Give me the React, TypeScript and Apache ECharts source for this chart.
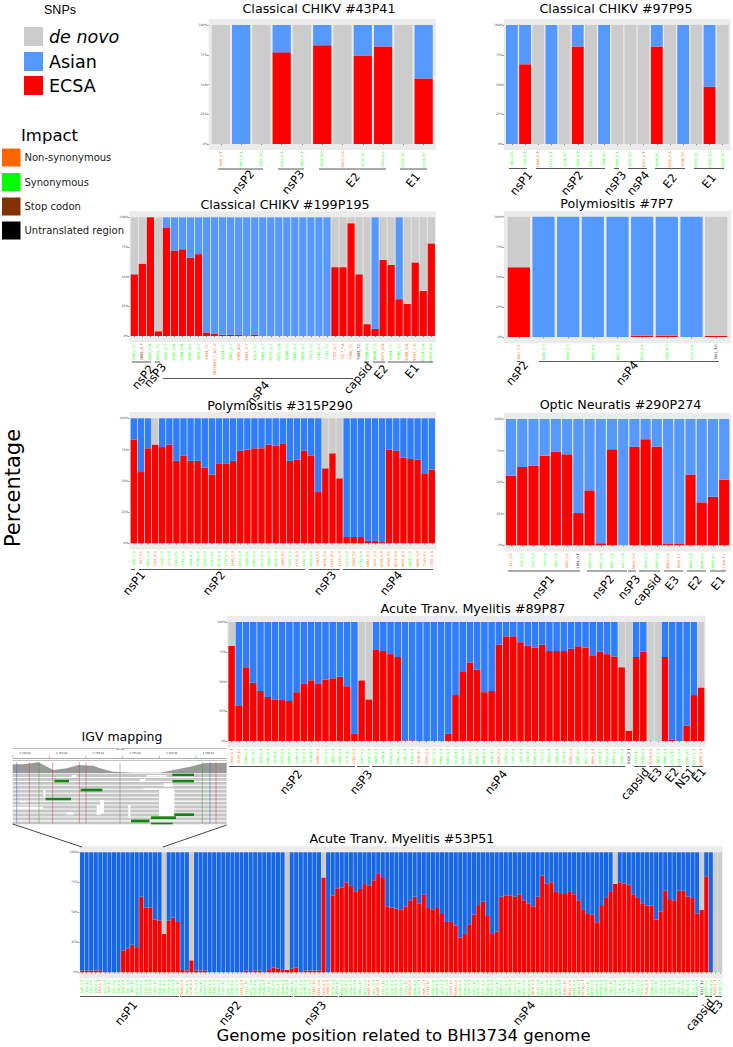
import React, { useEffect, useRef } from "react";
import * as echarts from "echarts";

// marks a few bars (1-based) on a run of n bars
const marks = (n: number, base: string, groups: Record<string, number[]>) => {
  const a = Array(n).fill(base);
  Object.entries(groups).forEach(([k, list]) => list.forEach((b) => (a[b - 1] = k)));
  return a.join("");
};

// ---------- data ----------
const red43 = [0, 0, 0, 77, 0, 83, 0, 74, 82, 0, 55];
const rest43 = "GBGBGBGBBGB";
const impact43 = "NSSSSSNSSSS";
const labels43 = ["3408_G:T", "3651_G:T", "3857_T:C", "4231_G:T", "4852_G:T", "8635_T:C", "8874_G:A", "9132_T:C", "9404_A:G", "10223_T:C", "10736_T:C"];
const genes43 = ["nsP2", "nsP3", "E2", "E1"];

const red97 = [0, 67, 0, 0, 0, 82, 0, 0, 0, 0, 0, 82, 0, 0, 0, 48, 0];
const rest97 = "BBGBGBGBGGGBGBGBG";
const impact97 = "SSNSSSSSSSNSNNSSS";
const labels97 = ["681_A:G", "1176_G:T", "1688_G:T", "2037_G:T", "2538_T:C", "3028_G:T", "3361_A:G", "3688_T:C", "5098_G:T", "6007_T:C", "6327_G:T", "8846_T:C", "9028_G:A", "9268_T:C", "10052_T:C", "10263_T:C", "10920_T:C"];
const genes97 = ["nsP1", "nsP2", "nsP3", "nsP4", "E2", "E1"];

const red199 = [52, 61, 100, 4, 91, 72, 73, 66, 69, 3, 2, 1, 1, 1, 0, 1, 0, 0, 0, 0, 0, 0, 0, 0, 0, 58, 58, 95, 52, 10, 6, 64, 60, 31, 27, 62, 38, 78];
const rest199 = marks(38, "B", { G: [1, 2, 3, 4, 26, 27, 28, 29, 30, 32, 33, 35, 36, 37, 38] });
const impact199 = marks(38, "S", { X: [2], N: [10, 11, 14, 15, 26, 27, 28, 32, 35, 36], U: [29] });
const labels199 = ["2491_T:C", "3869_G:T", "3997_G:A", "4471_T:C", "5083_G:T", "5392_G:A", "5584_G:A", "5687_A:G", "5876_G:T", "5894_T:C", "5855843_T_A:C:G", "5934_T:C", "5961_G:T", "5983_A:G", "6063_G:T", "6213_T:C", "6408_G:T", "6573_G:T", "6651_G:A", "6686_T:C", "6843_G:T", "6876_G:T", "7113_T:C", "7242_G:T", "7341_T:C", "7702_G:T", "7917_T:A", "7986_T:C", "7993_T:C", "7998_A:G", "8688_T:G", "8971_G:A", "9064_T:C", "9080_T:C", "9088_G:A", "9097_C:G", "10074_G:A", "10972_A:G"];
const genes199 = ["nsP2", "nsP3", "nsP4", "capsid", "E2", "E1"];

const red7 = [58, 0, 0, 0, 0, 1, 1, 0, 1];
const rest7 = "GBBBBBBBG";
const impact7 = "NSSSSSSSU";
const labels7 = ["3881_C:T", "6490_G:T", "6560_G:T", "6692_G:T", "6821_G:T", "6973_G:A", "7082_G:T", "7213_G:A", "7561_T:G"];
const genes7 = ["nsP2", "nsP4"];

const red315 = [83, 57, 76, 79, 77, 79, 66, 70, 66, 66, 60.5, 55, 63.5, 63.5, 66, 74, 75, 76, 76, 79, 78, 79.5, 66, 67, 74, 70, 41, 60, 72, 52, 5, 5, 5, 2, 2, 1, 75, 74, 68.5, 67.5, 67, 56, 59];
const rest315 = marks(43, "B", { G: [4, 28, 29, 30] });
const impact315 = marks(43, "S", { N: [2, 4, 15, 22, 24, 27, 28, 29, 30, 32, 34, 35, 36, 37, 38, 39, 41, 42, 43] });
const genes315 = ["nsP1", "nsP2", "nsP3", "nsP4"];

const red290 = [55, 62, 63, 71, 74, 72, 25.5, 43.5, 1.6, 76, 0, 78, 84, 78, 1, 1, 56, 34, 38.5, 52];
const rest290 = marks(20, "B", {});
const impact290 = marks(20, "S", { N: [1, 6, 12, 15, 16, 20], U: [7] });
const labels290 = ["391_G:T", "479_G:T", "642_G:A", "748_G:T", "996_G:T", "1060_G:T", "1364_G:T", "1695_G:T", "2691_G:A", "3695_G:T", "4617_C:T", "5804_G:A", "7644_A:G", "7894_G:A", "8686_C:A", "8924_T:C", "9098_G:T", "9668_A:G", "10002_T:C", "11346_T:C"];
const genes290 = ["nsP1", "nsP2", "nsP3", "capsid", "E3", "E2", "E1"];

const red89 = [80, 30, 62, 49, 42, 37, 35, 34.5, 33.6, 41, 48, 51, 48, 51.5, 52.7, 54, 46, 6, 51, 35, 76.5, 75.6, 73, 70.6, 0.5, 0.5, 0, 0, 0, 0, 6, 38.6, 58, 66, 60, 41, 42, 81, 88, 88, 83, 80, 78.5, 81, 75.6, 75.6, 75.6, 77.6, 79.6, 78.5, 72, 75, 73, 71, 62, 8.7, 70.6, 75, 0, 0, 70.6, 1, 0, 13, 38.6, 45];
const rest89 = marks(66, "B", { G: [1, 19, 20, 55, 56, 59, 60, 66] });
const impact89 = marks(66, "S", { N: [1, 2, 13, 18, 27, 28, 38, 48, 51, 59, 66], U: [56] });
const genes89 = ["nsP2", "nsP3", "nsP4", "capsid", "E3", "E2", "NS1", "E1"];

const red53 = [
  1.5, 1.5, 1.5, 1.5, 1.5, 0, 0, 0, 0, 18, 20, 23, 21, 63, 54, 54, 44, 43, 32, 43,
  45.5, 42, 2, 1.5, 10, 1.5, 1.5, 1.5, 0, 0, 0, 0, 0, 0, 0, 0, 1.5, 0, 1.5, 1.5,
  0, 2, 4, 3, 2, 2, 3, 4, 0, 1.5, 1.5, 1.5, 1.5, 79, 0, 64, 70, 70.5, 75, 72,
  67.5, 69.5, 73.5, 72.5, 76.7, 82, 78.6, 55, 54, 53, 52.5, 55, 60, 63, 57.5, 65, 53.6, 52.5, 53.6, 48.6,
  42, 42, 39, 29, 32, 40, 48, 56, 59, 47, 32, 34, 63, 64, 64, 63, 65, 60, 57.5, 55,
  63, 80.5, 74, 75, 67, 66, 66, 67, 65, 60, 52, 48.6, 48, 41.7, 56, 62, 67, 73.6, 75, 74,
  73, 65, 62, 57, 55.6, 55.6, 44, 50.5, 68, 61, 60, 68, 68, 63, 62, 49, 52, 80, 1, 0, 0,
];
const rest53 = marks(141, "B", { G: [19, 25, 46, 54, 118, 137, 140, 141] });
const impact53 = marks(141, "S", { N: [5, 23, 25, 36, 52, 53, 54, 55, 64, 66, 73, 76, 77, 82, 83, 100, 107, 108, 111, 125, 140], U: [137] });
const genes53 = ["nsP1", "nsP2", "nsP3", "nsP4", "capsid", "E3"];

const yTicks = [0, 25, 50, 75, 100];
const snpLegend = ["de novo", "Asian", "ECSA"];
const impactLegend = ["Non-synonymous", "Synonymous", "Stop codon", "Untranslated region"];
const igvTicks = ["1,740 bp", "1,750 bp", "1,760 bp", "1,770 bp", "1,780 bp", "1,790 bp"];

// illegible site names of the dense panels: genome position and base change
const changes = ["G:T", "T:C", "G:A", "A:G", "C:T"];
const sites = (from: number, to: number, n: number) =>
  Array.from({ length: n }, (_, i) => `${Math.round(from + ((to - from) * i) / (n - 1))}_${changes[i % 5]}`);
const labels315 = sites(690, 7300, 43);
const labels89 = sites(2002, 10650, 66);
const labels53 = sites(320, 8460, 141);

// ---------- layout and styles ----------
const C = { red: "#ff0000", gray: "#cccccc", bl: "#5599ff", bl2: "#2e7eff", bl3: "#1566e8", bg: "#ebebeb" };
const impactColor: Record<string, string> = { N: "#ff6600", S: "#00ff00", X: "#803300", U: "#000000" };
const FONT = "'DejaVu Sans'";

type B = [number, number, number, number, number];
const panels = [
  { title: "Classical CHIKV #43P41", tx: 319, ty: 8, left: 210.7, top: 25, w: 223.1, h: 119, tick: 3.3, blue: C.bl, red: red43, rest: rest43, impact: impact43, labels: labels43, genes: genes43,
    br: [[218, 263, 169, 243, 182], [278, 304, 169, 293, 182], [319, 386, 169, 353, 180], [400, 427, 169, 413, 180]] as B[] },
  { title: "Classical CHIKV #97P95", tx: 616, ty: 8, left: 505.3, top: 25, w: 224, h: 119, tick: 3.3, blue: C.bl, red: red97, rest: rest97, impact: impact97, labels: labels97, genes: genes97,
    br: [[509, 527, 168.5, 521, 183], [536, 605, 168.5, 572, 183], [614, 619, 168.5, 615, 183], [628, 647, 168.5, 638, 183], [655, 685, 168.5, 670, 181], [694, 724, 168.5, 709, 181]] as B[] },
  { title: "Classical CHIKV #199P195", tx: 285, ty: 204, left: 130.3, top: 217.3, w: 305, h: 118.7, tick: 3.6, blue: C.bl, red: red199, rest: rest199, impact: impact199, labels: labels199, genes: genes199,
    br: [[131.7, 151, 362, 143, 377], [155, 160, 362, 155, 375], [163, 353, 378.5, 258, 393], [364, 369, 362, 358, 378], [373, 385, 362, 381, 372], [388, 433, 362, 412, 371]] as B[] },
  { title: "Polymiositis #7P7", tx: 617, ty: 203, left: 506.5, top: 216.7, w: 222, h: 120.3, tick: 3.3, blue: C.bl, red: red7, rest: rest7, impact: impact7, labels: labels7, genes: genes7,
    br: [[517, 520, 361.5, 517, 373], [539, 719, 361.5, 627, 373]] as B[] },
  { title: "Polymiositis #315P290", tx: 280, ty: 405, left: 130.3, top: 418.3, w: 305, h: 125, tick: 3.3, blue: C.bl2, red: red315, rest: rest315, impact: impact315, labels: labels315, genes: genes315,
    br: [[131, 135, 569.5, 134, 583], [139, 305, 569.5, 214, 583], [309, 340, 569.5, 325, 583], [343, 433, 569.5, 391, 583]] as B[] },
  { title: "Optic Neuratis #290P274", tx: 620.5, ty: 404, left: 505.4, top: 419, w: 224.4, h: 126.3, tick: 3.3, blue: C.bl, red: red290, rest: rest290, impact: impact290, labels: labels290, genes: genes290,
    br: [[508, 580, 571, 543, 587], [587, 627, 571, 603, 587], [628, 636, 571, 629, 587], [639, 660, 571, 647, 590], [664, 683, 571, 672, 583], [687, 706, 571, 695, 583], [710, 726, 571, 718, 583]] as B[] },
  { title: "Acute Tranv. Myelitis #89P87", tx: 473, ty: 608, left: 228, top: 622, w: 476.7, h: 119, tick: 3.3, blue: C.bl2, red: red89, rest: rest89, impact: impact89, labels: labels89, genes: genes89,
    br: [[229, 355, 766.5, 291, 782], [357, 369, 766.5, 361, 782], [372, 625, 766.5, 496, 782], [634, 646, 766.5, 635, 784], [649, 661, 766.5, 655, 775], [664, 682, 766.5, 672, 775], [686, 689, 766.5, 685, 778], [692, 703, 766.5, 699, 775]] as B[] },
  { title: "Acute Tranv. Myelitis #53P51", tx: 402, ty: 838, left: 79.8, top: 852.3, w: 642.4, h: 120, tick: 3.3, blue: C.bl3, red: red53, rest: rest53, impact: impact53, labels: labels53, genes: genes53,
    br: [[80, 179, 996.5, 126, 1013], [180, 293, 996.5, 230, 1013], [294, 338, 996.5, 315, 1013], [339, 698, 996.5, 524, 1013], [705, 712, 996.5, 700, 1015], [715, 722, 996.5, 716, 1007]] as B[] },
];

const txt = (text: string, x: number, y: number, size: number, extra: any = {}, rotation = 0) => ({
  type: "text", x, y, rotation, silent: true, z: 5,
  style: { text, fontSize: size, fontFamily: FONT, fill: "#000", align: "center", verticalAlign: "middle", ...extra },
});
const rect = (x: number, y: number, width: number, height: number, fill: string, z = 0) => ({
  type: "rect", silent: true, z, shape: { x, y, width, height }, style: { fill },
});
const seg = (x1: number, y1: number, x2: number, y2: number, stroke: string, lineWidth = 1, z = 5) => ({
  type: "line", silent: true, z, shape: { x1, y1, x2, y2 }, style: { stroke, lineWidth },
});

function igvGraphic() {
  const g: any[] = [];
  const X = (v: number) => v / 3;
  const Y = (v: number) => 725 + v / 3;
  g.push(txt("IGV mapping", 122, 736.5, 12.5));
  g.push(seg(12.7, 748.5, 226.7, 748.5, "#666", 0.4));
  g.push(txt("18 bp", 120, 748.5, 3, { backgroundColor: "#fff", fill: "#333" }));
  igvTicks.forEach((t, i) => {
    const x = X(75 + 110 * i);
    g.push(txt(t, x, 754, 2.6, { fill: "#333" }));
    g.push(seg(X(20 + 110 * i + 18), 755.5, X(20 + 110 * i + 18), 758, "#666", 0.4));
  });
  g.push(seg(12.7, 758.5, 226.7, 758.5, "#777", 0.6));
  g.push(seg(12.7, 760.5, 226.7, 760.5, "#999", 0.6));
  g.push({
    type: "polygon", silent: true, z: 3,
    shape: { points: [[38, 145], [38, 118], [70, 118], [115, 112], [160, 135], [200, 130], [235, 120], [280, 122], [300, 130], [340, 140], [400, 143], [480, 143], [520, 135], [570, 125], [610, 115], [680, 113], [680, 145]].map(([a, b]) => [X(a), Y(b)]) },
    style: { fill: "#9a9a9a" },
  });
  for (let r = 0; r < 13; r++) {
    g.push(rect(12.7, 774 + r * 3.95, 214, 2.9, "#c6c6c6", 3));
  }
  // gaps in the read pile
  const gaps = [[477, 190, 46, 85], [300, 225, 12, 40], [40, 245, 90, 8], [130, 195, 6, 20], [215, 150, 14, 6], [440, 150, 60, 5], [420, 162, 16, 6], [430, 190, 50, 5], [290, 240, 12, 30], [200, 262, 20, 7], [60, 228, 16, 4], [490, 175, 28, 10], [385, 240, 6, 40]];
  gaps.forEach(([a, b, c, d]) => g.push(rect(X(a), Y(b), X(c), d / 3, "#ffffff", 3)));
  const snp: [number, string][] = [[50, "#4060c0"], [88, "#c04040"], [117, "#30a030"], [158, "#c04040"], [238, "#c04040"], [258, "#c04040"], [360, "#777"], [607, "#30a030"], [630, "#4060c0"], [648, "#c04040"]];
  snp.forEach(([a, c]) => g.push(seg(X(a), Y(112), X(a), Y(295), c, 0.5, 4)));
  const reads = [[517, 146, 65, 7], [517, 165, 65, 7], [163, 164, 44, 8], [242, 191, 65, 8], [137, 218, 76, 8], [523, 265, 59, 8], [453, 274, 75, 8], [393, 284, 55, 8], [453, 293, 65, 5]];
  reads.forEach(([a, b, c, d]) => g.push(rect(X(a), Y(b), X(c), d / 3, "#0b8a0b", 4)));
  g.push(seg(12.7, 824, 82, 847, "#333", 0.9));
  g.push(seg(226.7, 825, 163, 847, "#333", 0.9));
  return g;
}

function buildOption() {
  const grid: any[] = [], xAxis: any[] = [], yAxis: any[] = [], series: any[] = [], graphic: any[] = [];
  panels.forEach((p, i) => {
    const n = p.red.length;
    const step = p.w / n;
    const padX = step * 0.1, padY = p.h * 0.05;
    graphic.push(rect(p.left - padX, p.top - padY, p.w + 2 * padX, p.h + 2 * padY, C.bg));
    graphic.push(txt(p.title, p.tx, p.ty, 12.7));
    p.br.forEach(([x1, x2, y, lx, ly], k) => {
      graphic.push(seg(x1, y, x2, y, "#444", 0.9));
      graphic.push(txt(p.genes[k], lx, ly, 11.5, {}, (50 * Math.PI) / 180));
    });
    grid.push({ left: p.left, top: p.top, width: p.w, height: p.h, containLabel: false });
    xAxis.push({
      type: "category", gridIndex: i, offset: padY,
      data: p.labels.map((l, k) => ({ value: l, textStyle: { color: impactColor[p.impact[k]] } })),
      axisLine: { show: false },
      axisTick: { show: true, alignWithLabel: true, length: 1.2, lineStyle: { color: "#333", width: 0.5 } },
      axisLabel: { interval: 0, rotate: 90, fontSize: p.tick, fontFamily: FONT, margin: 1.5, hideOverlap: false },
      splitLine: { show: false },
    });
    yAxis.push({
      type: "value", gridIndex: i, min: 0, max: 100, interval: 25, offset: padX,
      axisLine: { show: false },
      axisTick: { show: true, length: 1.2, lineStyle: { color: "#333", width: 0.5 } },
      axisLabel: { fontSize: 3.2, fontFamily: FONT, color: "#4d4d4d", margin: 1, formatter: (v: number) => (yTicks.includes(v) ? `${v}%` : "") },
      splitLine: { show: false },
    });
    const common = { type: "bar", xAxisIndex: i, yAxisIndex: i, stack: `s${i}`, barCategoryGap: "10%", silent: true, animation: false };
    series.push({ ...common, name: "ECSA", data: p.red, itemStyle: { color: C.red } });
    series.push({ ...common, name: "Asian", data: p.red.map((v, k) => (p.rest[k] === "B" ? 100 - v : 0)), itemStyle: { color: p.blue } });
    series.push({ ...common, name: "de novo", data: p.red.map((v, k) => (p.rest[k] === "G" ? 100 - v : 0)), itemStyle: { color: C.gray } });
  });

  // SNP legend
  graphic.push(txt("SNPs", 60, 9.5, 12.5, { fontFamily: "'Liberation Sans'" }));
  const snpColors = [C.gray, C.bl, C.red];
  const snpY = [36.5, 61.5, 85.5];
  snpLegend.forEach((t, i) => {
    graphic.push(rect(24, snpY[i] - 9.5, 19, 19, snpColors[i]));
    graphic.push(txt(t, 49, snpY[i], 17.5, { align: "left", fontStyle: i === 0 ? "italic" : "normal" }));
  });
  // Impact legend
  graphic.push(txt("Impact", 21, 135, 16.5, { align: "left" }));
  const impColors = [impactColor.N, impactColor.S, impactColor.X, impactColor.U];
  const impY = [157.5, 182, 206.5, 230.5];
  impactLegend.forEach((t, i) => {
    graphic.push(rect(2, impY[i] - 9, 18.5, 18, impColors[i]));
    graphic.push(txt(t, 24.5, impY[i], 10, { align: "left", fill: "#222" }));
  });
  // axis names
  graphic.push(txt("Percentage", 13, 488, 21, {}, Math.PI / 2));
  graphic.push(txt("Genome position related to BHI3734 genome", 403.5, 1035, 16.5));
  graphic.push(...igvGraphic());

  return { animation: false, backgroundColor: "#ffffff", grid, xAxis, yAxis, series, graphic: { elements: graphic } };
}

export default function App() {
  const ref = useRef<HTMLDivElement>(null);
  useEffect(() => {
    document.body.style.margin = "0";
    const chart = echarts.init(ref.current!, undefined, { renderer: "svg" });
    chart.setOption(buildOption() as any);
    return () => chart.dispose();
  }, []);
  return <div ref={ref} style={{ position: "absolute", left: 0, top: 0, width: 733, height: 1047 }} />;
}
